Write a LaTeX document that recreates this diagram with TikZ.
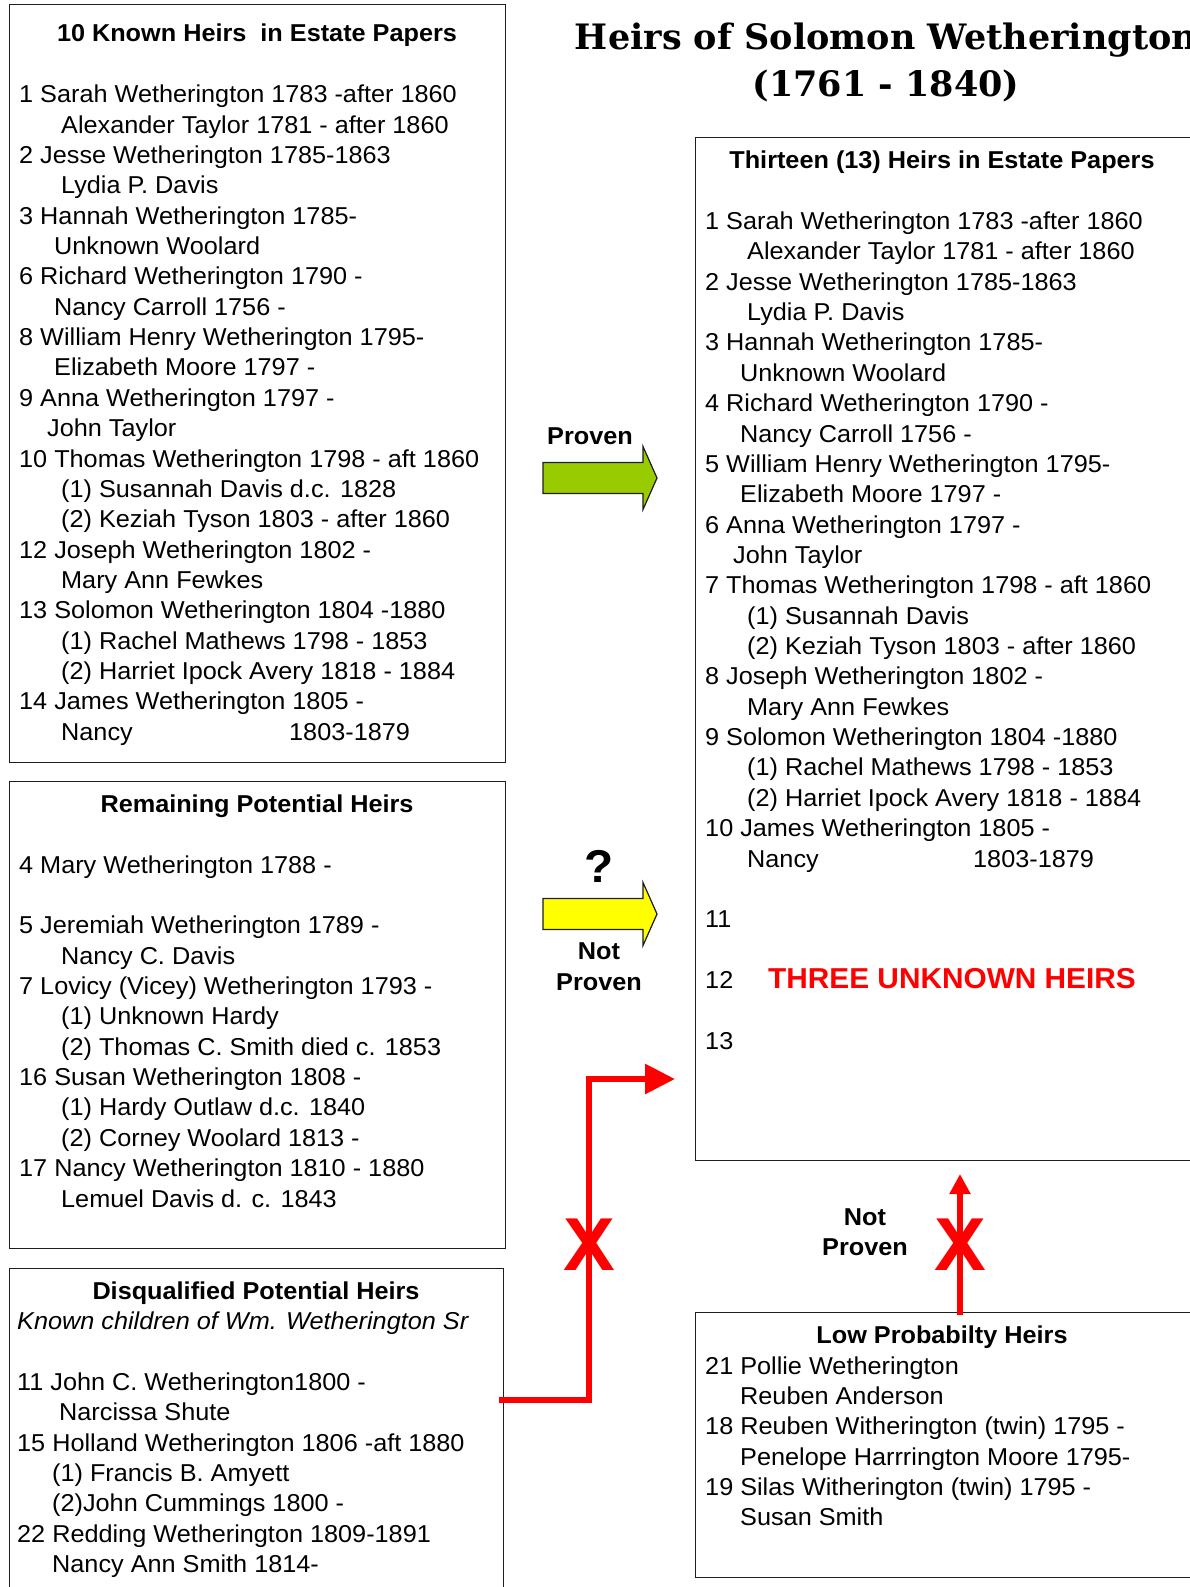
\documentclass[tikz,border=0pt]{standalone}
\usepackage{fontspec}
\setmainfont{Liberation Sans}[FakeStretch=1.035]
\newfontfamily\titlefont{DejaVu Serif}
\usetikzlibrary{arrows.meta}
\definecolor{arrowgreen}{RGB}{153,204,0}
\definecolor{arrowyellow}{RGB}{255,255,0}
\definecolor{xred}{RGB}{255,0,0}
\definecolor{edge}{RGB}{30,30,30}
\begin{document}
\begin{tikzpicture}[x=1pt,y=-1pt,
  frame/.style={draw=edge, line width=1.3pt, anchor=north west, inner sep=0pt},
  body/.style={anchor=north west, inner sep=0pt, align=left, font=\fontsize{24.4}{30.36}\selectfont},
  boxhead/.style={anchor=base, inner sep=0pt, font=\fontsize{24.4}{30.36}\selectfont\bfseries},
  arrowlabel/.style={anchor=base, inner sep=0pt, font=\fontsize{24.4}{30.36}\selectfont\bfseries},
  maintitle/.style={anchor=base, inner sep=0pt, font=\titlefont\bfseries\fontsize{35}{45}\selectfont},
  blockarrow/.style={draw=edge, line width=1.2pt, line join=miter},
  redline/.style={draw=xred, line width=6pt, line join=miter},
  xmark/.style={inner sep=0pt, text=xred, font=\fontsize{75}{75}\selectfont\bfseries}
]
\useasboundingbox (0,0) rectangle (1190,1587);
\fill[white] (0,0) rectangle (1190,1587);

% ---- frames
\node[frame, minimum width=496pt, minimum height=758pt] (boxA) at (9,4) {};
\node[frame, minimum width=496pt, minimum height=467pt] (boxB) at (9,781) {};
\node[frame, minimum width=494pt, minimum height=340pt] (boxC) at (9,1268) {};
\node[frame, minimum width=500pt, minimum height=1023pt] (boxD) at (695,137) {};
\node[frame, minimum width=500pt, minimum height=265pt] (boxE) at (695,1312) {};

% ---- main title
\node[maintitle] (title1) at (886,49.3) {Heirs of Solomon Wetherington};
\node[maintitle] (title2) at (886,96) {(1761 - 1840)};

% ---- box A
\node[boxhead] (hA) at (257,41.8) {10 Known Heirs\ \ in Estate Papers};
\node[body] (tA) at (19,82.5) {\rule{0pt}{20pt}1 Sarah Wetherington 1783 -after 1860\\
\hspace*{42pt}Alexander Taylor 1781 - after 1860\\
2 Jesse Wetherington 1785-1863\\
\hspace*{42pt}Lydia P. Davis\\
3 Hannah Wetherington 1785-\\
\hspace*{35pt}Unknown Woolard\\
6 Richard Wetherington 1790 -\\
\hspace*{35pt}Nancy Carroll 1756 -\\
8 William Henry Wetherington 1795-\\
\hspace*{35pt}Elizabeth Moore 1797 -\\
9 Anna Wetherington 1797 -\\
\hspace*{28pt}John Taylor\\
10 Thomas Wetherington 1798 - aft 1860\\
\hspace*{42pt}(1) Susannah Davis d.c. 1828\\
\hspace*{42pt}(2) Keziah Tyson 1803 - after 1860\\
12 Joseph Wetherington 1802 -\\
\hspace*{42pt}Mary Ann Fewkes\\
13 Solomon Wetherington 1804 -1880\\
\hspace*{42pt}(1) Rachel Mathews 1798 - 1853\\
\hspace*{42pt}(2) Harriet Ipock Avery 1818 - 1884\\
14 James Wetherington 1805 -\\
\hspace*{42pt}\makebox[228pt][l]{Nancy}1803-1879};

% ---- box B
\node[boxhead] (hB) at (257,812.2) {Remaining Potential Heirs};
\node[body] (tB) at (19,852.9) {\rule{0pt}{20pt}4 Mary Wetherington 1788 -\\
~\\
5 Jeremiah Wetherington 1789 -\\
\hspace*{42pt}Nancy C. Davis\\
7 Lovicy (Vicey) Wetherington 1793 -\\
\hspace*{42pt}(1) Unknown Hardy\\
\hspace*{42pt}(2) Thomas C. Smith died c. 1853\\
16 Susan Wetherington 1808 -\\
\hspace*{42pt}(1) Hardy Outlaw d.c. 1840\\
\hspace*{42pt}(2) Corney Woolard 1813 -\\
17 Nancy Wetherington 1810 - 1880\\
\hspace*{42pt}Lemuel Davis d. c. 1843};

% ---- box C
\node[boxhead] (hC) at (256,1299) {Disqualified Potential Heirs};
\node[body] (tC) at (17,1309.4) {\rule{0pt}{20pt}\textit{Known children of Wm. Wetherington Sr}\\
~\\
11 John C. Wetherington1800 -\\
\hspace*{42pt}Narcissa Shute\\
15 Holland Wetherington 1806 -aft 1880\\
\hspace*{35pt}(1) Francis B. Amyett\\
\hspace*{35pt}(2)John Cummings 1800 -\\
22 Redding Wetherington 1809-1891\\
\hspace*{35pt}Nancy Ann Smith 1814-};

% ---- box D
\node[boxhead] (hD) at (942,168.6) {Thirteen (13) Heirs in Estate Papers};
\node[body] (tD) at (705,209.3) {\rule{0pt}{20pt}1 Sarah Wetherington 1783 -after 1860\\
\hspace*{42pt}Alexander Taylor 1781 - after 1860\\
2 Jesse Wetherington 1785-1863\\
\hspace*{42pt}Lydia P. Davis\\
3 Hannah Wetherington 1785-\\
\hspace*{35pt}Unknown Woolard\\
4 Richard Wetherington 1790 -\\
\hspace*{35pt}Nancy Carroll 1756 -\\
5 William Henry Wetherington 1795-\\
\hspace*{35pt}Elizabeth Moore 1797 -\\
6 Anna Wetherington 1797 -\\
\hspace*{28pt}John Taylor\\
7 Thomas Wetherington 1798 - aft 1860\\
\hspace*{42pt}(1) Susannah Davis\\
\hspace*{42pt}(2) Keziah Tyson 1803 - after 1860\\
8 Joseph Wetherington 1802 -\\
\hspace*{42pt}Mary Ann Fewkes\\
9 Solomon Wetherington 1804 -1880\\
\hspace*{42pt}(1) Rachel Mathews 1798 - 1853\\
\hspace*{42pt}(2) Harriet Ipock Avery 1818 - 1884\\
10 James Wetherington 1805 -\\
\hspace*{42pt}\makebox[226pt][l]{Nancy}1803-1879\\
~\\
11\\
~\\
\makebox[63pt][l]{12}{\color{xred}\bfseries\fontsize{28.8}{30.36}\selectfont THREE UNKNOWN HEIRS}\\
~\\
13};

% ---- box E
\node[boxhead] (hE) at (942,1343.5) {Low Probabilty Heirs};
\node[body] (tE) at (705,1353.9) {\rule{0pt}{20pt}21 Pollie Wetherington\\
\hspace*{35pt}Reuben Anderson\\
18 Reuben Witherington (twin) 1795 -\\
\hspace*{35pt}Penelope Harrrington Moore 1795-\\
19 Silas Witherington (twin) 1795 -\\
\hspace*{35pt}Susan Smith};

% ---- block arrows
\draw[blockarrow, fill=arrowgreen] (543,462.5) -- (643,462.5) -- (643,446.5) -- (657,478) -- (643,509.5) -- (643,493.5) -- (543,493.5) -- cycle;
\node[arrowlabel] (lblProven) at (590,444.7) {Proven};

\draw[blockarrow, fill=arrowyellow] (543,898.5) -- (643,898.5) -- (643,882.5) -- (657,914) -- (643,945.5) -- (643,929.5) -- (543,929.5) -- cycle;
\node[inner sep=0pt, font=\fontsize{46}{46}\selectfont\bfseries] (qmark) at (599,866.7) {?};
\node[arrowlabel] (lblNot) at (599,959.4) {Not};
\node[arrowlabel] (lblNotProven) at (599,990.4) {Proven};

% ---- red connectors
\coordinate (cStart) at (499,1400);
\coordinate (cBend) at (589,1079);
\coordinate (cEnd) at (675,1079);
\draw[redline, -{Triangle[length=30pt,width=29pt]}] (cStart) -| (cBend) -- (cEnd);
\node[xmark] (x1) at (589,1245) {X};

\coordinate (eTop) at (960,1315);
\coordinate (dTip) at (960,1174);
\draw[redline, -{Triangle[length=20pt,width=20pt]}] (eTop) -- (dTip);
\node[xmark] (x2) at (960,1245) {X};

\node[arrowlabel] (lblNot2) at (865,1225) {Not};
\node[arrowlabel] (lblProven3) at (865,1255.4) {Proven};
\end{tikzpicture}
\end{document}
